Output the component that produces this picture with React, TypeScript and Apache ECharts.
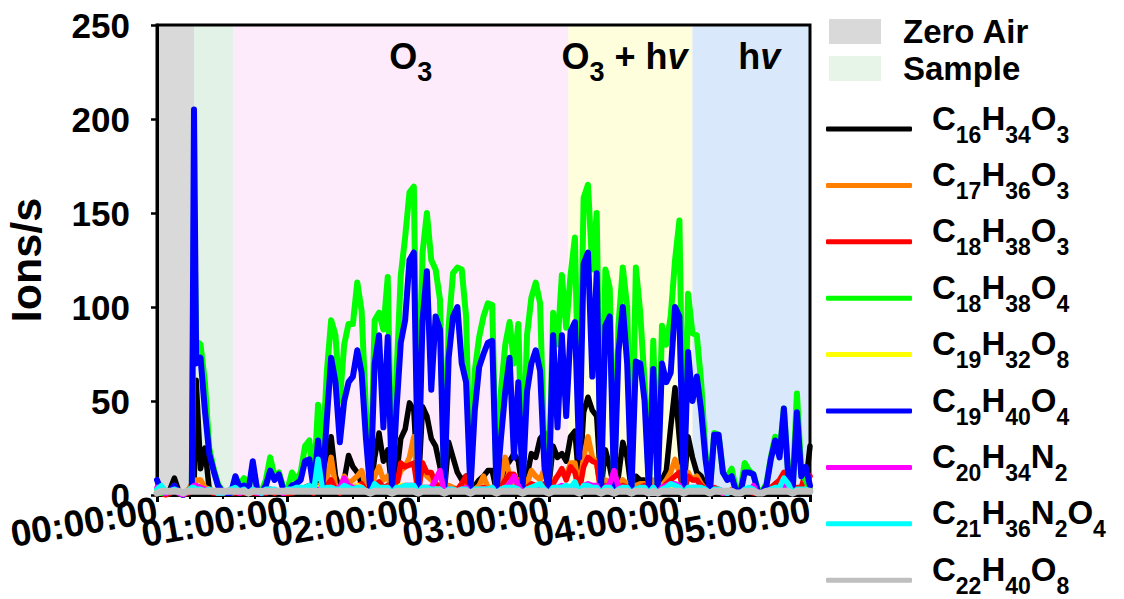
import React, { useEffect, useRef } from "react";
import * as echarts from "echarts";

// elapsed time, minutes
const minutes = [
  0, 2, 4, 6, 8, 10, 12, 14, 16, 17,
  18, 20, 22, 24, 26, 28, 30, 32, 34, 36,
  38, 40, 42, 44, 46, 48, 50, 52, 54, 56,
  58, 60, 62, 64, 66, 68, 70, 72, 74, 76,
  78, 80, 82, 84, 86, 88, 90, 92, 94, 96,
  98, 100, 102, 104, 106, 108, 110, 112, 114, 116,
  118, 120, 122, 124, 126, 128, 130, 132, 134, 136,
  138, 140, 142, 144, 146, 148, 150, 152, 154, 156,
  158, 160, 162, 164, 166, 168, 170, 172, 174, 176,
  178, 180, 182, 184, 186, 188, 190, 192, 194, 196,
  198, 200, 202, 204, 206, 208, 210, 212, 214, 216,
  218, 220, 222, 224, 226, 228, 230, 232, 234, 236,
  238, 240, 242, 244, 246, 248, 250, 252, 254, 256,
  258, 260, 262, 264, 266, 268, 270, 272, 274, 276,
  278, 280, 282, 284, 286, 288, 290, 292, 294, 296,
  298, 300,
];

const C16H34O3 = [
  2, 1, 1, 3, 9, 2, 0, 1, 1, 2,
  61, 14, 25, 3, 2, 1, 1, 1, 1, 2,
  1, 2, 1, 2, 1, 1, 2, 3, 2, 2,
  1, 1, 2, 2, 2, 4, 5, 2, 6, 3,
  15, 31, 10, 3, 8, 21, 15, 12, 6, 3,
  1, 20, 33, 18, 24, 2, 10, 30, 35, 49,
  45, 3, 47, 42, 30, 26, 15, 2, 28, 20,
  12, 8, 10, 2, 5, 8, 10, 13, 13, 2,
  8, 15, 18, 22, 18, 2, 10, 22, 20, 30,
  33, 5, 26, 20, 22, 18, 31, 34, 5, 44,
  52, 45, 42, 3, 24, 15, 3, 10, 28, 20,
  2, 10, 8, 8, 2, 5, 2, 8, 13, 36,
  57, 30, 3, 31, 20, 12, 10, 5, 2, 3,
  2, 2, 1, 2, 1, 1, 2, 2, 2, 1,
  1, 2, 3, 3, 2, 4, 3, 1, 3, 2,
  5, 26,
];

const C17H36O3 = [
  2, 1, 1, 2, 5, 1, 0, 2, 6, 5,
  8, 8, 4, 3, 2, 1, 1, 1, 1, 2,
  1, 2, 1, 2, 1, 1, 2, 2, 2, 2,
  1, 1, 2, 2, 3, 4, 3, 2, 5, 3,
  8, 20, 5, 2, 10, 6, 8, 10, 13, 4,
  1, 10, 15, 8, 10, 2, 6, 13, 15, 20,
  31, 2, 17, 10, 8, 6, 5, 1, 5, 4,
  3, 4, 5, 1, 3, 5, 10, 4, 4, 1,
  8, 20, 10, 6, 8, 1, 6, 13, 10, 8,
  14, 2, 8, 10, 12, 10, 17, 17, 3, 20,
  31, 20, 17, 2, 8, 7, 2, 5, 8, 6,
  1, 5, 6, 6, 1, 8, 1, 5, 8, 12,
  19, 12, 2, 12, 8, 10, 6, 3, 1, 3,
  2, 2, 1, 3, 1, 1, 2, 2, 2, 1,
  1, 2, 3, 4, 4, 10, 6, 1, 3, 3,
  5, 4,
];

const C18H38O3 = [
  1, 1, 0, 1, 3, 1, 0, 1, 2, 3,
  4, 3, 2, 2, 1, 1, 1, 1, 1, 1,
  1, 1, 1, 1, 1, 1, 1, 2, 1, 2,
  1, 1, 1, 2, 2, 3, 2, 1, 4, 2,
  5, 8, 3, 1, 4, 3, 4, 5, 6, 2,
  1, 5, 7, 4, 5, 1, 4, 17, 15, 16,
  17, 1, 17, 12, 12, 6, 4, 1, 3, 3,
  3, 6, 10, 1, 2, 3, 4, 3, 3, 1,
  4, 8, 11, 11, 5, 1, 4, 6, 5, 5,
  6, 1, 6, 10, 14, 8, 15, 12, 2, 15,
  20, 18, 17, 1, 5, 4, 1, 4, 5, 4,
  1, 3, 4, 5, 1, 4, 1, 3, 6, 8,
  10, 12, 1, 10, 8, 8, 5, 3, 1, 4,
  3, 2, 1, 2, 1, 1, 2, 2, 1, 1,
  1, 2, 4, 6, 8, 12, 5, 1, 4, 4,
  12, 10,
];

const C18H38O4 = [
  3, 1, 1, 2, 4, 1, 0, 2, 3, 150,
  82, 80, 60, 25, 14, 6, 2, 1, 1, 8,
  6, 9, 3, 15, 3, 2, 8, 20, 10, 12,
  4, 3, 12, 8, 12, 26, 29, 5, 48, 20,
  65, 93, 85, 50, 80, 91, 91, 113, 98, 45,
  3, 93, 97, 88, 116, 3, 63, 117, 137, 161,
  164, 4, 129, 150, 125, 120, 104, 3, 90, 118,
  121, 120, 95, 4, 66, 84, 95, 102, 101, 3,
  55, 80, 92, 70, 91, 6, 85, 105, 113, 102,
  20, 4, 97, 80, 117, 89, 117, 137, 30, 158,
  165, 120, 150, 4, 120, 110, 5, 90, 121, 100,
  4, 121, 97, 60, 4, 82, 4, 90, 80, 95,
  125, 146, 4, 107, 86, 85, 60, 22, 3, 33,
  32, 12, 10, 14, 3, 2, 17, 13, 11, 3,
  2, 6, 20, 31, 22, 46, 12, 3, 54, 12,
  8, 3,
];

const C19H32O8 = [
  2, 2, 1, 2, 3, 2, 1, 2, 3, 3,
  3, 3, 2, 2, 2, 1, 1, 1, 1, 2,
  2, 2, 1, 2, 2, 1, 2, 2, 2, 2,
  2, 2, 2, 2, 3, 3, 3, 2, 4, 3,
  3, 4, 3, 2, 3, 3, 4, 5, 4, 2,
  1, 3, 4, 3, 4, 1, 3, 5, 5, 4,
  5, 1, 4, 4, 4, 3, 3, 1, 3, 3,
  2, 3, 3, 1, 2, 3, 3, 3, 3, 1,
  3, 4, 3, 3, 3, 1, 3, 4, 4, 3,
  3, 1, 3, 3, 4, 3, 4, 4, 1, 4,
  5, 4, 4, 1, 3, 3, 1, 3, 4, 3,
  1, 3, 3, 3, 1, 3, 1, 3, 3, 4,
  4, 3, 1, 3, 3, 3, 2, 2, 1, 2,
  2, 1, 1, 2, 1, 1, 2, 2, 2, 1,
  1, 2, 2, 2, 2, 3, 2, 1, 2, 2,
  2, 2,
];

const C19H40O4 = [
  8, 2, 1, 2, 5, 1, 0, 2, 3, 205,
  70, 73, 45, 22, 13, 5, 2, 1, 1, 10,
  4, 5, 2, 18, 3, 1, 5, 13, 8, 11,
  3, 2, 5, 6, 8, 18, 19, 3, 29, 5,
  40, 73, 60, 28, 50, 60, 63, 77, 65, 30,
  2, 70, 85, 36, 84, 2, 45, 81, 93, 125,
  129, 3, 93, 119, 56, 95, 88, 2, 73, 95,
  100, 70, 60, 3, 45, 68, 75, 81, 82, 2,
  30, 55, 73, 20, 60, 5, 55, 70, 77, 66,
  15, 3, 85, 36, 85, 42, 87, 92, 20, 123,
  129, 63, 118, 3, 90, 95, 3, 76, 100, 70,
  3, 71, 70, 50, 3, 67, 3, 70, 60, 65,
  100, 95, 3, 76, 50, 63, 45, 19, 2, 32,
  32, 12, 8, 10, 2, 1, 12, 12, 11, 2,
  1, 5, 19, 29, 20, 46, 10, 2, 44, 10,
  15, 5,
];

const C20H34N2 = [
  4, 2, 1, 2, 3, 1, 0, 2, 4, 5,
  5, 4, 3, 2, 2, 1, 1, 2, 3, 2,
  1, 2, 1, 2, 1, 1, 2, 2, 2, 2,
  1, 2, 2, 2, 2, 3, 3, 2, 3, 2,
  3, 4, 3, 4, 9, 5, 4, 4, 4, 2,
  1, 3, 4, 3, 3, 1, 3, 4, 5, 5,
  5, 1, 4, 4, 4, 8, 13, 1, 3, 3,
  2, 3, 4, 1, 2, 3, 3, 3, 3, 1,
  3, 4, 6, 10, 5, 1, 3, 4, 4, 3,
  3, 1, 4, 4, 5, 4, 4, 5, 1, 5,
  6, 5, 5, 1, 4, 6, 13, 4, 4, 3,
  1, 3, 3, 3, 1, 4, 1, 4, 5, 6,
  6, 5, 1, 4, 4, 4, 3, 2, 1, 2,
  2, 1, 1, 2, 1, 1, 2, 2, 5, 1,
  1, 2, 3, 3, 3, 5, 3, 1, 2, 2,
  2, 2,
];

const C21H36N2O4 = [
  3, 5, 2, 2, 3, 2, 1, 2, 4, 4,
  3, 3, 2, 3, 2, 1, 1, 2, 3, 4,
  2, 3, 1, 3, 2, 1, 3, 3, 3, 2,
  2, 3, 3, 4, 4, 4, 5, 2, 19, 3,
  4, 4, 3, 3, 5, 4, 3, 4, 4, 2,
  1, 6, 4, 4, 4, 1, 4, 4, 5, 5,
  5, 1, 4, 4, 3, 3, 3, 1, 3, 3,
  2, 3, 3, 1, 3, 3, 3, 3, 4, 1,
  3, 4, 4, 4, 3, 1, 3, 4, 5, 6,
  3, 1, 4, 4, 4, 5, 4, 7, 1, 5,
  5, 4, 4, 1, 4, 4, 1, 3, 4, 4,
  1, 3, 4, 4, 1, 4, 1, 3, 4, 6,
  5, 4, 1, 4, 4, 4, 4, 3, 1, 3,
  3, 2, 1, 2, 1, 1, 3, 4, 3, 1,
  1, 2, 3, 4, 4, 9, 6, 1, 3, 3,
  3, 2,
];

const C22H40O8 = [
  1, 2, 2, 2, 2, 2, 1, 2, 2, 2,
  2, 2, 2, 2, 2, 2, 2, 2, 2, 2,
  2, 2, 1, 2, 2, 2, 2, 2, 2, 2,
  2, 2, 2, 2, 2, 2, 2, 2, 2, 2,
  2, 2, 2, 2, 2, 2, 2, 2, 2, 2,
  1, 2, 2, 2, 2, 1, 2, 2, 2, 2,
  2, 1, 2, 2, 2, 2, 2, 1, 2, 2,
  2, 2, 2, 1, 2, 2, 2, 2, 2, 1,
  2, 2, 2, 2, 2, 1, 2, 2, 2, 2,
  2, 1, 2, 2, 2, 2, 2, 2, 1, 2,
  2, 2, 2, 1, 2, 2, 1, 2, 2, 2,
  1, 2, 2, 2, 1, 2, 1, 2, 2, 2,
  2, 2, 1, 2, 2, 2, 2, 2, 1, 2,
  2, 2, 2, 2, 1, 1, 2, 2, 2, 1,
  1, 2, 2, 2, 2, 2, 2, 1, 2, 2,
  2, 2,
];

const seriesNames = [
  "C16H34O3", "C17H36O3", "C18H38O3", "C18H38O4", "C19H32O8",
  "C19H40O4", "C20H34N2", "C21H36N2O4", "C22H40O8",
];
const seriesValues = [
  C16H34O3, C17H36O3, C18H38O3, C18H38O4, C19H32O8,
  C19H40O4, C20H34N2, C21H36N2O4, C22H40O8,
];
const seriesColors = [
  "#000000", "#ff8000", "#ff0000", "#00ff00", "#ffff00",
  "#0000ff", "#ff00ff", "#00ffff", "#bfbfbf",
];

// phases (minutes)
const zeroAirRange = [0, 17];
const sampleRange = [17, 35];
const phaseRanges = [[35, 189], [189, 246], [246, 300]];
const phaseLabels = ["{n|O}{s|3}", "{n|O}{s|3}{n| + h}{i|v}", "{n|h}{i|v}"];
const phaseColors = ["#fdeafb", "#fefedd", "#d9e8fb"];
const phaseLabelOffsets = [[10, 0], [-6, 0], [8, 0]];

const FONT = "Liberation Sans, Arial, Helvetica, sans-serif";

function formulaRich(name: string): string {
  return name.replace(/([A-Za-z]+)|(\d+)/g, (_m: string, a: string, d: string) =>
    a ? `{n|${a}}` : `{s|${d}}`
  );
}

function hourLabel(v: number): string {
  const h = Math.round(v / 60);
  return `${String(h).padStart(2, "0")}:00:00`;
}

export default function App() {
  const ref = useRef<HTMLDivElement>(null);

  useEffect(() => {
    if (!ref.current) return;
    const chart = echarts.init(ref.current, null, { renderer: "svg" });

    const lineSeries = seriesNames.map((name, i) => ({
      name,
      type: "line",
      xAxisIndex: 0,
      data: minutes.map((t, k) => [t, seriesValues[i][k]]),
      showSymbol: false,
      symbol: "none",
      z: 3,
      lineStyle: {
        color: seriesColors[i],
        width: i === 8 ? 7 : i === 5 || i === 3 ? 6 : 5.5,
        cap: "round",
        join: "round",
      },
      itemStyle: { color: seriesColors[i] },
    }));

    const bandRich = {
      n: { fontSize: 36, fontWeight: "bold", fontFamily: FONT, color: "#000", lineHeight: 60 },
      s: { fontSize: 27, fontWeight: "bold", fontFamily: FONT, color: "#000", padding: [32, 0, 0, 0] },
      i: { fontSize: 36, fontWeight: "bold", fontStyle: "italic", fontFamily: FONT, color: "#000", lineHeight: 60 },
    };

    const xLabelStyle = {
      rotate: 10,
      margin: 14,
      fontSize: 37,
      fontWeight: "bold",
      fontFamily: FONT,
      color: "#000",
    };

    const option: any = {
      animation: false,
      grid: {
        left: 157,
        right: 314,
        top: 25,
        bottom: 104,
        show: true,
        z: 2,
        containLabel: false,
        outerBoundsMode: "none",
        backgroundColor: "transparent",
        borderColor: "#000",
        borderWidth: 3,
      },
      legend: [
        {
          data: ["Zero Air", "Sample"],
          orient: "vertical",
          left: 829,
          top: 13,
          padding: 0,
          icon: "rect",
          itemWidth: 52,
          itemHeight: 25,
          itemGap: 0,
          selectedMode: false,
          textStyle: {
            fontSize: 33,
            fontWeight: "bold",
            fontFamily: FONT,
            color: "#000",
            lineHeight: 37,
            padding: [0, 0, 0, 17],
          },
        },
        {
          data: seriesNames,
          orient: "vertical",
          left: 826,
          top: 90,
          height: 700,
          padding: 0,
          icon: "roundRect",
          itemWidth: 86,
          itemHeight: 5,
          itemGap: 0.4,
          selectedMode: false,
          formatter: (name: string) => formulaRich(name),
          textStyle: {
            padding: [0, 0, 22, 15],
            rich: {
              n: { fontSize: 33, fontWeight: "bold", fontFamily: FONT, color: "#000", lineHeight: 30 },
              s: { fontSize: 23, fontWeight: "bold", fontFamily: FONT, color: "#000", lineHeight: 30, padding: [33, 0, 0, 0] },
            },
          },
        },
      ],
      xAxis: [
        {
          type: "value",
          min: 0,
          max: 300,
          interval: 60,
          z: 2,
          splitLine: { show: false },
          axisLine: { lineStyle: { color: "#000", width: 3 } },
          axisTick: { length: 7, lineStyle: { color: "#000", width: 3 } },
          minorTick: { show: true, splitNumber: 4, length: 4, lineStyle: { color: "#000", width: 2 } },
          axisLabel: {
            ...xLabelStyle,
            formatter: (v: number) => (Math.round(v / 60) % 2 === 0 ? hourLabel(v) : ""),
          },
        },
        {
          type: "value",
          position: "bottom",
          min: 0,
          max: 300,
          interval: 60,
          z: 2,
          splitLine: { show: false },
          axisLine: { show: false },
          axisTick: { show: false },
          axisLabel: {
            ...xLabelStyle,
            formatter: (v: number) => (Math.round(v / 60) % 2 === 1 ? hourLabel(v) : ""),
          },
        },
      ],
      yAxis: {
        type: "value",
        min: 0,
        max: 250,
        interval: 50,
        z: 2,
        name: "Ions/s",
        nameLocation: "middle",
        nameRotate: 90,
        nameGap: 110,
        nameTextStyle: { fontSize: 43, fontWeight: "bold", fontFamily: FONT, color: "#000" },
        splitLine: { show: false },
        axisLine: { show: true, lineStyle: { color: "#000", width: 3 } },
        axisTick: { show: true, length: 6, lineStyle: { color: "#000", width: 2.5 } },
        axisLabel: {
          margin: 27,
          fontSize: 35,
          fontWeight: "bold",
          fontFamily: FONT,
          color: "#000",
        },
      },
      series: [
        {
          name: "Zero Air",
          type: "line",
          xAxisIndex: 0,
          data: [],
          itemStyle: { color: "#d9d9d9" },
          markArea: {
            silent: true,
            itemStyle: { color: "#d9d9d9" },
            data: [[{ xAxis: zeroAirRange[0] }, { xAxis: zeroAirRange[1] }]],
          },
        },
        {
          name: "Sample",
          type: "line",
          xAxisIndex: 0,
          data: [],
          itemStyle: { color: "#e6f5e8" },
          markArea: {
            silent: true,
            itemStyle: { color: "#e3f2e6" },
            data: [[{ xAxis: sampleRange[0] }, { xAxis: sampleRange[1] }]],
          },
        },
        {
          name: "phases",
          type: "line",
          xAxisIndex: 0,
          data: [],
          markArea: {
            silent: true,
            label: { show: true, position: "insideTop", distance: 1, rich: bandRich },
            data: phaseRanges.map((r, i) => [
              {
                xAxis: r[0],
                itemStyle: { color: phaseColors[i] },
                label: { formatter: phaseLabels[i], offset: phaseLabelOffsets[i] },
              },
              { xAxis: r[1] },
            ]),
          },
        },
        ...lineSeries,
      ],
    };

    chart.setOption(option);
    return () => chart.dispose();
  }, []);

  return (
    <div
      ref={ref}
      style={{ position: "absolute", left: 0, top: 0, width: 1124, height: 599, background: "#fff" }}
    />
  );
}
